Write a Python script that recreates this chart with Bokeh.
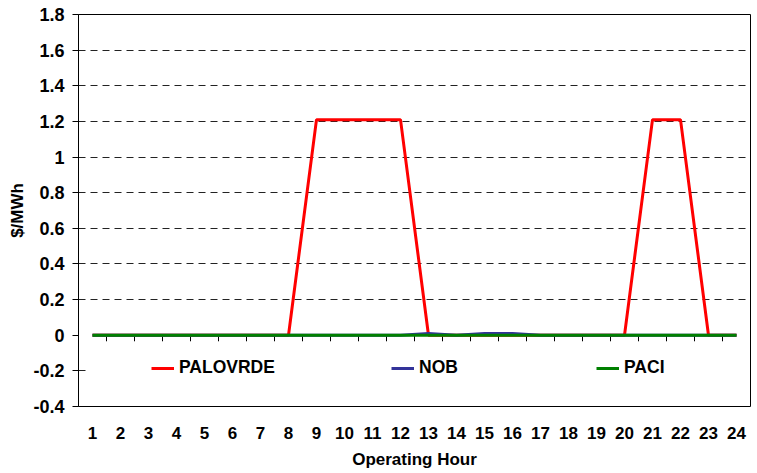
from bokeh.plotting import figure
from bokeh.models import (Range1d, FixedTicker, CustomJSTickFormatter, Legend, LegendItem,
                          BoxAnnotation, ColumnDataSource)
from bokeh.embed import file_html
from bokeh.resources import INLINE

hours = list(range(1, 25))
palovrde = [0, 0, 0, 0, 0, 0, 0, 0, 1.21, 1.21, 1.21, 1.21,
            0, 0, 0, 0, 0, 0, 0, 0, 1.21, 1.21, 0, 0]
nob = [0, 0, 0, 0, 0, 0, 0, 0, 0, 0, 0, 0,
       0.01, 0, 0.01, 0.01, 0, 0, 0, 0, 0, 0, 0, 0]
paci = [0] * 24
y_ticks = [-0.4, -0.2, 0, 0.2, 0.4, 0.6, 0.8, 1.0, 1.2, 1.4, 1.6, 1.8]
grid_ticks = [-0.2, 0.2, 0.4, 0.6, 0.8, 1.0, 1.2, 1.4, 1.6]

FONT = "Liberation Sans"

p = figure(width=757, height=473, output_backend="svg", toolbar_location=None,
           x_range=Range1d(0.5, 24.5), y_range=Range1d(-0.4, 1.8),
           min_border_left=78, min_border_right=7, min_border_top=14, min_border_bottom=67)
p.background_fill_color = "white"
p.border_fill_color = "white"
p.outline_line_color = "black"
p.outline_line_width = 1

# grid
p.xgrid.visible = False
p.ygrid.ticker = FixedTicker(ticks=grid_ticks)
p.ygrid.grid_line_color = "#222222"
p.ygrid.grid_line_dash = "7 5"
p.ygrid.grid_line_width = 1

# white area behind legend
box = BoxAnnotation(left=0.8, right=24.4, bottom=-0.26, top=-0.14,
                    fill_color="white", fill_alpha=1, line_alpha=0, level="underlay")
p.add_layout(box)

# y axis
ya = p.yaxis[0]
ya.ticker = FixedTicker(ticks=y_ticks)
ya.formatter = CustomJSTickFormatter(code="return String(Math.round(tick*10)/10);")
ya.minor_tick_line_color = None
ya.major_tick_out = 6
ya.major_tick_in = 0
ya.major_tick_line_color = "black"
ya.major_label_standoff = 8
ya.major_label_text_font = FONT
ya.major_label_text_font_style = "bold"
ya.major_label_text_font_size = "18px"
ya.major_label_text_color = "black"
ya.axis_label = "$/MWh"
ya.axis_label_text_font = FONT
ya.axis_label_text_font_style = "bold"
ya.axis_label_text_font_size = "17px"
ya.axis_label_text_color = "black"
ya.axis_label_standoff = 3
ya.axis_line_color = "black"

# x axis
xa = p.xaxis[0]
xa.ticker = FixedTicker(ticks=hours)
xa.minor_tick_line_color = None
xa.major_tick_line_color = None
xa.axis_line_color = None
xa.major_label_standoff = 14
xa.major_label_text_font = FONT
xa.major_label_text_font_style = "bold"
xa.major_label_text_font_size = "17px"
xa.major_label_text_color = "black"
xa.axis_label = "Operating Hour"
xa.axis_label_text_font = FONT
xa.axis_label_text_font_style = "bold"
xa.axis_label_text_font_size = "17px"
xa.axis_label_text_color = "black"
xa.axis_label_standoff = 8

# category-boundary tick marks on the zero line
bounds = [h + 0.5 for h in hours[:-1]]
p.segment(x0=bounds, y0=[0] * len(bounds), x1=bounds, y1=[-0.034] * len(bounds),
          line_color="black", line_width=1)

src = ColumnDataSource(dict(h=hours, pv=palovrde, nob=nob, paci=paci))
r1 = p.line("h", "pv", source=src, line_color="#FF0000", line_width=3)
r2 = p.line("h", "nob", source=src, line_color="#333399", line_width=3)
r3 = p.line("h", "paci", source=src, line_color="#008000", line_width=3)

for label, r, x in [("PALOVRDE", r1, 73), ("NOB", r2, 313), ("PACI", r3, 518)]:
    lg = Legend(items=[LegendItem(label=label, renderers=[r])], location=(x, 28),
                orientation="horizontal", background_fill_alpha=0, border_line_alpha=0,
                padding=0, margin=0, glyph_width=23, glyph_height=20, label_height=20,
                label_standoff=5, label_text_font=FONT, label_text_font_style="bold",
                label_text_font_size="17.5px", label_text_color="black")
    p.add_layout(lg)

open("out.html", "w").write(file_html(p, INLINE))
